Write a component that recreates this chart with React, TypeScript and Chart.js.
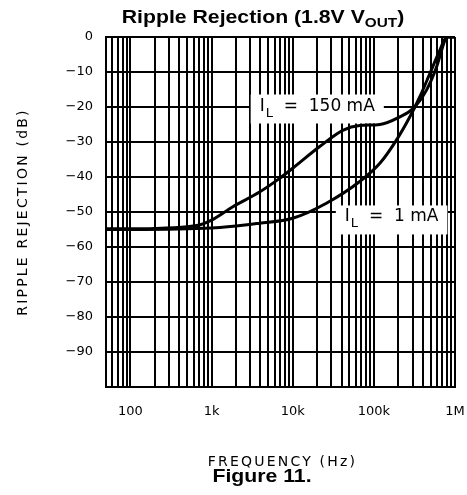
import React, { useEffect, useRef } from 'react';
import { Chart, registerables } from 'chart.js';

Chart.register(...registerables);

// I_L = 150 mA curve (frequency Hz, ripple rejection dB)
const freq150 = [50, 100, 200, 500, 710, 1000, 1830, 3900, 6900, 10000, 21500, 42000, 67000, 118600, 209000, 306000, 447000, 594000, 753000, 804000, 1000000];
const rej150 = [-54.8, -54.8, -54.7, -54.2, -53.7, -52.3, -48.5, -44.3, -40.4, -37.5, -31.3, -26.6, -25.3, -25.0, -22.8, -20.4, -15.1, -8.5, -0.9, 0, 0];

// I_L = 1 mA curve
const freq1 = [50, 100, 1000, 3900, 10000, 26000, 67000, 118600, 190500, 278000, 370000, 491000, 653000, 790000, 1000000];
const rej1 = [-55, -55, -54.6, -53.2, -51.8, -47.5, -41.3, -36.1, -29.4, -22.8, -17, -10.4, -3.7, 0, 0];

// axis tick labels
const xLabelValues = [100, 1000, 10000, 100000, 1000000];
const xLabelTexts = ['100', '1k', '10k', '100k', '1M'];
const xMin = 50;
const xMax = 1000000;
const yMin = -100;
const yMax = 0;
const yStep = 10;

// gridline positions: 50..90, then 1..9 x each decade, then 1M
const xGridValues: number[] = [50, 60, 70, 80, 90];
for (const d of [100, 1000, 10000, 100000]) {
  for (const m of [1, 2, 3, 4, 5, 6, 7, 8, 9]) xGridValues.push(d * m);
}
xGridValues.push(1000000);

// curve annotations
const labelTexts = ['  =  150 mA', '  =  1 mA'];
const labelFreqs = [3914, 43900];
const labelDbs = [-21, -52.7];

const titleMain = 'Ripple Rejection (1.8V V';
const titleSub = 'OUT';
const titleTail = ')';
const caption = 'Figure 11.';
const xTitle = 'FREQUENCY (Hz)';
const yTitle = 'RIPPLE REJECTION (dB)';

const decorPlugin = {
  id: 'decor',
  beforeDatasetsDraw(chart: any) {
    const ctx = chart.ctx as CanvasRenderingContext2D;
    const xs = chart.scales.x;
    const ys = chart.scales.y;
    ctx.save();
    for (let i = 0; i < labelTexts.length; i++) {
      const x0 = xs.getPixelForValue(labelFreqs[i]);
      const yb = ys.getPixelForValue(labelDbs[i]);
      ctx.font = '17px "DejaVu Sans"';
      const wI = ctx.measureText('I').width;
      ctx.font = '13px "DejaVu Sans"';
      const wL = ctx.measureText('L').width;
      ctx.font = '17px "DejaVu Sans"';
      const wR = ctx.measureText(labelTexts[i]).width;
      const total = wI + 1 + wL + wR;
      ctx.fillStyle = '#fff';
      ctx.fillRect(x0 - 9, yb - 16, total + 18, 29);
      ctx.fillStyle = '#000';
      ctx.textBaseline = 'alphabetic';
      ctx.textAlign = 'left';
      ctx.fillText('I', x0, yb);
      ctx.font = '13px "DejaVu Sans"';
      ctx.fillText('L', x0 + wI + 1, yb + 6);
      ctx.font = '17px "DejaVu Sans"';
      ctx.fillText(labelTexts[i], x0 + wI + 1 + wL, yb);
    }
    ctx.restore();
  },
  afterDraw(chart: any) {
    const ctx = chart.ctx as CanvasRenderingContext2D;
    const area = chart.chartArea;
    const stretch = 1.18;
    ctx.save();
    ctx.fillStyle = '#000';
    ctx.textBaseline = 'alphabetic';
    ctx.textAlign = 'left';
    // title
    ctx.font = 'bold 18px "Liberation Sans", Arial, sans-serif';
    const wMain = ctx.measureText(titleMain).width;
    const wTail = ctx.measureText(titleTail).width;
    ctx.font = 'bold 13px "Liberation Sans", Arial, sans-serif';
    const wSub = ctx.measureText(titleSub).width;
    const totalT = (wMain + wSub + wTail) * stretch;
    ctx.save();
    ctx.translate(263 - totalT / 2, 22.5);
    ctx.scale(stretch, 1);
    ctx.font = 'bold 18px "Liberation Sans", Arial, sans-serif';
    ctx.fillText(titleMain, 0, 0);
    ctx.font = 'bold 13px "Liberation Sans", Arial, sans-serif';
    ctx.fillText(titleSub, wMain, 4);
    ctx.font = 'bold 18px "Liberation Sans", Arial, sans-serif';
    ctx.fillText(titleTail, wMain + wSub, 0);
    ctx.restore();
    // caption
    ctx.save();
    ctx.font = 'bold 18px "Liberation Sans", Arial, sans-serif';
    const wCap = ctx.measureText(caption).width * stretch;
    ctx.translate(262 - wCap / 2, 482);
    ctx.scale(stretch, 1);
    ctx.fillText(caption, 0, 0);
    ctx.restore();
    // axis titles
    ctx.font = '14px "DejaVu Sans"';
    (ctx as any).letterSpacing = '2.2px';
    ctx.textAlign = 'center';
    ctx.fillText(xTitle, (area.left + area.right) / 2 + 2, 466);
    ctx.save();
    ctx.translate(27, (area.top + area.bottom) / 2);
    ctx.rotate(-Math.PI / 2);
    ctx.fillText(yTitle, 0, 0);
    ctx.restore();
    (ctx as any).letterSpacing = '0px';
    ctx.restore();
  },
};

export default function App() {
  const ref = useRef<HTMLCanvasElement>(null);
  useEffect(() => {
    const canvas = ref.current;
    if (!canvas) return;
    const tickFont = { family: '"DejaVu Sans"', size: 13 };
    const chart = new Chart(canvas, {
      type: 'line',
      data: {
        datasets: [
          {
            label: 'IL = 150 mA',
            data: freq150.map((f, i) => ({ x: f, y: rej150[i] })),
            borderColor: '#000',
            borderWidth: 3,
            pointRadius: 0,
            cubicInterpolationMode: 'monotone',
            fill: false,
          },
          {
            label: 'IL = 1 mA',
            data: freq1.map((f, i) => ({ x: f, y: rej1[i] })),
            borderColor: '#000',
            borderWidth: 3,
            pointRadius: 0,
            cubicInterpolationMode: 'monotone',
            fill: false,
          },
        ],
      },
      options: {
        responsive: false,
        animation: false,
        devicePixelRatio: 1,
        layout: { padding: { left: 46, top: 37, right: 12, bottom: 68 } },
        plugins: {
          legend: { display: false },
          tooltip: { enabled: false },
          title: { display: false },
        },
        scales: {
          x: {
            type: 'logarithmic',
            min: xMin,
            max: xMax,
            afterBuildTicks: (s: any) => {
              s.ticks = xGridValues.map((v) => ({ value: v }));
            },
            afterFit: (s: any) => {
              s.height = 40;
              s.paddingLeft = 0;
              s.paddingRight = 0;
            },
            ticks: {
              autoSkip: false,
              maxRotation: 0,
              minRotation: 0,
              padding: 17,
              color: '#000',
              font: tickFont,
              callback: (v: any) => {
                const i = xLabelValues.indexOf(Number(v));
                return i >= 0 ? xLabelTexts[i] : '';
              },
            },
            grid: { color: '#000', lineWidth: 2, drawTicks: false },
            border: { color: '#000', width: 2 },
          },
          y: {
            type: 'linear',
            min: yMin,
            max: yMax,
            afterFit: (s: any) => {
              s.width = 60;
            },
            ticks: {
              stepSize: yStep,
              padding: 13,
              color: '#000',
              font: tickFont,
              callback: (v: any) => {
                const n = Number(v);
                if (n === yMin) return '';
                if (n === 0) return '0';
                return '\u2212' + Math.abs(n);
              },
            },
            grid: { color: '#000', lineWidth: 2, drawTicks: false },
            border: { color: '#000', width: 2 },
          },
        },
      } as any,
      plugins: [decorPlugin],
    });
    return () => chart.destroy();
  }, []);
  return (
    <div style={{ position: 'fixed', left: 0, top: 0, width: 467, height: 495, background: '#fff' }}>
      <canvas ref={ref} width={467} height={495} style={{ display: 'block' }} />
    </div>
  );
}
